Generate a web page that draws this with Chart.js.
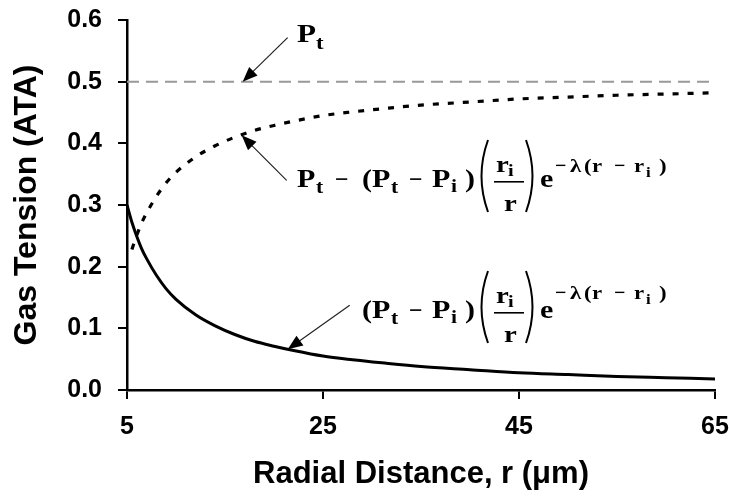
<!DOCTYPE html>
<html>
<head>
<meta charset="utf-8">
<script src="https://cdn.jsdelivr.net/npm/chart.js@4"></script>
<style>
  body { margin: 0; background: #fff; }
  #wrap { width: 729px; height: 497px; }
</style>
</head>
<body>
<div id="wrap"><canvas id="myChart"></canvas></div>
<script>
// data
const radius = [5, 5.5, 6, 6.5, 7, 8, 9, 10, 12, 14, 16, 18, 20, 22, 25, 28, 31, 35, 40, 45, 50, 55, 60, 65];
const gradient = [0.300, 0.272, 0.249, 0.229, 0.213, 0.186, 0.164, 0.147, 0.122, 0.104, 0.090, 0.079, 0.071, 0.064, 0.055, 0.049, 0.044, 0.038, 0.033, 0.028, 0.025, 0.022, 0.020, 0.018];
const tension = [null, 0.228, 0.251, 0.271, 0.287, 0.314, 0.336, 0.353, 0.378, 0.396, 0.410, 0.421, 0.429, 0.436, 0.445, 0.451, 0.456, 0.462, 0.467, 0.472, 0.475, 0.478, 0.480, 0.482];
const ptRadius = [5, 65];
const ptLevel = [0.5, 0.5];
const xTicks = [5, 25, 45, 65];
const yTicks = [0, 0.1, 0.2, 0.3, 0.4, 0.5, 0.6];

const toPoints = (xs, ys) => xs.map((v, i) => ({ x: v, y: ys[i] }));

const serifB = (px) => 'bold ' + px + 'px "Liberation Serif", "Times New Roman", serif';
const sansB = '"Liberation Sans", Arial, sans-serif';
const SX = 1.2; // the figure's serif lettering is wider than Times

// arrow: tip in pixels, tail as pixel offset
function arrow(ctx, tx, ty, dx, dy) {
    const fx = tx + dx, fy = ty + dy;
    const ang = Math.atan2(ty - fy, tx - fx);
    const c = Math.cos(ang), s = Math.sin(ang);
    ctx.save();
    ctx.strokeStyle = '#222';
    ctx.fillStyle = '#000';
    ctx.lineWidth = 1.2;
    ctx.beginPath();
    ctx.moveTo(fx, fy);
    ctx.lineTo(tx - 10 * c, ty - 10 * s);
    ctx.stroke();
    ctx.beginPath();
    ctx.moveTo(tx, ty);
    ctx.lineTo(tx - 15 * c + 6 * s, ty - 15 * s - 6 * c);
    ctx.lineTo(tx - 15 * c - 6 * s, ty - 15 * s + 6 * c);
    ctx.closePath();
    ctx.fill();
    ctx.restore();
}

function paren(ctx, x, top, bot, left) {
    const mid = (top + bot) / 2;
    ctx.beginPath();
    if (left) {
        ctx.moveTo(x + 9, top);
        ctx.quadraticCurveTo(x - 4, mid, x + 9, bot);
    } else {
        ctx.moveTo(x, top);
        ctx.quadraticCurveTo(x + 13, mid, x, bot);
    }
    ctx.lineWidth = 2;
    ctx.stroke();
}

// glyph runs: [text, dx, dy, size, xscale]
const prefixRun = [['P', -65, 0, 25], ['t', -46, 6, 18], ['\u2212', -27, 0, 24, 1]];
const coreRun = [['(', 0, 0, 25], ['P', 10, 0, 25], ['t', 29, 6, 18], ['\u2212', 47, 0, 24, 1],
                 ['P', 70, 0, 25], ['i', 89, 5, 18], [')', 103, 0, 25]];
const fracRun = [['r', 134, -15, 24], ['i', 146, -11, 17], ['r', 142, 24, 24], ['e', 178, 0, 25]];
const supRun = [['\u2212', 0, 0, 20, 1], ['\u03bb', 15, 0, 19], ['(', 29, 0, 19], ['r', 37, 0, 19],
                ['\u2212', 59, 0, 20, 1], ['r', 79, 0, 19], ['i', 91, 5, 14], [')', 104, 0, 19]];

function putRun(ctx, run, x, base) {
    for (const [t, dx, dy, size, sx] of run) {
        ctx.save();
        ctx.translate(x + dx, base + dy);
        ctx.scale(sx || SX, 1);
        ctx.font = serifB(size);
        ctx.fillText(t, 0, 0);
        ctx.restore();
    }
}

// c0 is the x of the "(" that opens (Pt - Pi)
function formula(ctx, c0, base, withPt, supUp) {
    ctx.save();
    ctx.fillStyle = '#000';
    ctx.strokeStyle = '#000';
    ctx.textBaseline = 'alphabetic';
    if (withPt) putRun(ctx, prefixRun, c0, base);
    putRun(ctx, coreRun, c0, base);
    paren(ctx, c0 + 117, base - 47, base + 25, true);
    ctx.fillRect(c0 + 132, base - 6, 30, 1.6);
    putRun(ctx, fracRun, c0, base);
    paren(ctx, c0 + 164, base - 47, base + 25, false);
    putRun(ctx, supRun, c0 + 193, base - supUp);
    ctx.restore();
}

const notes = {
    id: 'notes',
    afterDraw(chart) {
        const { ctx, scales: { x, y } } = chart;
        ctx.save();
        ctx.fillStyle = '#000';
        putRun(ctx, [['P', 0, 0, 26], ['t', 19, 7, 19]], 297, 42);
        ctx.restore();
        arrow(ctx, x.getPixelForValue(16.8), y.getPixelForValue(0.5), 45, -44);
        arrow(ctx, x.getPixelForValue(16.7), y.getPixelForValue(0.413), 45, 45);
        arrow(ctx, x.getPixelForValue(21.4), y.getPixelForValue(0.066), 62, -44);
        formula(ctx, 362, 187, true, 15);
        formula(ctx, 362, 318, false, 19);
    }
};

const ctx = document.getElementById('myChart').getContext('2d');
const chart = new Chart(ctx, {
    type: 'line',
    data: {
        datasets: [
            {
                label: 'Pt',
                data: toPoints(ptRadius, ptLevel),
                borderColor: '#999',
                borderWidth: 2,
                borderDash: [12, 7],
                pointRadius: 0
            },
            {
                label: 'tension',
                data: toPoints(radius, tension),
                borderColor: '#000',
                borderWidth: 3.2,
                borderDash: [6, 9],
                pointRadius: 0,
                cubicInterpolationMode: 'monotone'
            },
            {
                label: 'gradient',
                data: toPoints(radius, gradient),
                borderColor: '#000',
                borderWidth: 3,
                pointRadius: 0,
                cubicInterpolationMode: 'monotone'
            }
        ]
    },
    options: {
        responsive: true,
        maintainAspectRatio: false,
        animation: false,
        layout: { padding: { top: 20, right: 14, left: 0, bottom: 0 } },
        plugins: { legend: { display: false }, tooltip: { enabled: false } },
        scales: {
            x: {
                type: 'linear',
                min: 5,
                max: 65,
                afterBuildTicks: (s) => { s.ticks = xTicks.map(v => ({ value: v })); },
                afterFit: (s) => { s.height = 107; s.paddingLeft = 0; s.paddingRight = 0; },
                border: { color: '#000', width: 2.5 },
                grid: { drawOnChartArea: false, color: '#000', lineWidth: 2, tickLength: 9 },
                ticks: {
                    color: '#000',
                    padding: 13,
                    maxRotation: 0,
                    font: { family: sansB, weight: 'bold', size: 25 }
                },
                title: {
                    display: true,
                    text: 'Radial Distance, r (\u03bcm)',
                    color: '#000',
                    padding: { top: 18 },
                    font: { family: sansB, weight: 'bold', size: 31 }
                }
            },
            y: {
                min: 0,
                max: 0.6,
                afterBuildTicks: (s) => { s.ticks = yTicks.map(v => ({ value: v })); },
                afterFit: (s) => { s.width = 127; s.paddingTop = 0; s.paddingBottom = 0; },
                border: { color: '#000', width: 2.5 },
                grid: { drawOnChartArea: false, color: '#000', lineWidth: 2, tickLength: 9 },
                ticks: {
                    color: '#000',
                    padding: 16,
                    callback: (v) => v.toFixed(1),
                    font: { family: sansB, weight: 'bold', size: 25 }
                },
                title: {
                    display: true,
                    text: 'Gas Tension (ATA)',
                    color: '#000',
                    padding: { top: 8, bottom: 0 },
                    font: { family: sansB, weight: 'bold', size: 32 }
                }
            }
        }
    },
    plugins: [notes]
});
</script>
</body>
</html>
